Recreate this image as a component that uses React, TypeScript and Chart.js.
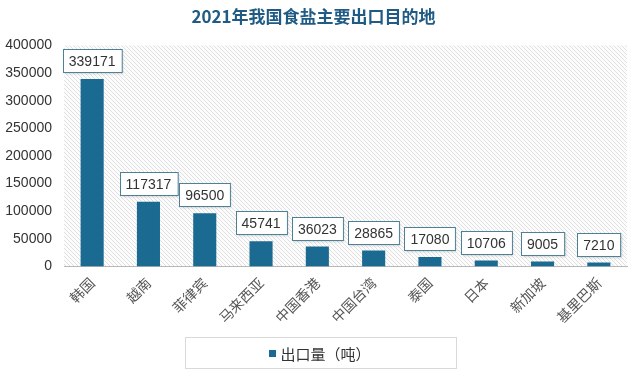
import React, { useEffect, useRef } from "react";
import { Chart, registerables } from "chart.js";

Chart.register(...registerables);

const chartTitle = "2021年我国食盐主要出口目的地";
const seriesName = "出口量（吨）";
const categories = ["韩国", "越南", "菲律宾", "马来西亚", "中国香港", "中国台湾", "泰国", "日本", "新加坡", "基里巴斯"];
const exportVolume = [339171, 117317, 96500, 45741, 36023, 28865, 17080, 10706, 9005, 7210];
const yMin = 0;
const yMax = 400000;
const yStep = 50000;

const BAR_COLOR = "#1b6a92";
const TITLE_COLOR = "#1f5b84";
const LABEL_BORDER = "#4d8198";

function makeHatch(): CanvasPattern | string {
  const n = 4;
  const c = document.createElement("canvas");
  c.width = n;
  c.height = n;
  const g = c.getContext("2d");
  if (!g) return "#f2f2f2";
  g.fillStyle = "#fcfcfc";
  g.fillRect(0, 0, n, n);
  g.strokeStyle = "#e0e0e0";
  g.lineWidth = 1;
  for (const k of [-n, 0, n]) {
    g.beginPath();
    g.moveTo(k, 0);
    g.lineTo(k + n, n);
    g.stroke();
  }
  const p = g.createPattern(c, "repeat");
  return p || "#f2f2f2";
}

const hatchPlugin = {
  id: "hatchBg",
  beforeDraw(chart: any) {
    const { ctx, chartArea } = chart;
    if (!chartArea) return;
    ctx.save();
    ctx.fillStyle = makeHatch();
    ctx.fillRect(chartArea.left, chartArea.top, chartArea.right - chartArea.left, chartArea.bottom - chartArea.top);
    ctx.restore();
  },
};

const dataLabelPlugin = {
  id: "boxLabels",
  afterDatasetsDraw(chart: any) {
    const { ctx } = chart;
    const meta = chart.getDatasetMeta(0);
    const data = chart.data.datasets[0].data as number[];
    ctx.save();
    ctx.font = "14px 'Liberation Sans', Arial, sans-serif";
    ctx.textAlign = "center";
    ctx.textBaseline = "middle";
    meta.data.forEach((bar: any, i: number) => {
      const txt = String(data[i]);
      const w = ctx.measureText(txt).width + 12;
      const h = 23;
      const x = Math.round(bar.x - w / 2) + 0.5;
      const y = Math.round(bar.y - 7 - h) + 0.5;
      ctx.shadowColor = "rgba(0,0,0,0.15)";
      ctx.shadowBlur = 2;
      ctx.shadowOffsetX = 1;
      ctx.shadowOffsetY = 1;
      ctx.fillStyle = "#ffffff";
      ctx.fillRect(x, y, w, h);
      ctx.shadowColor = "transparent";
      ctx.strokeStyle = LABEL_BORDER;
      ctx.lineWidth = 1;
      ctx.strokeRect(x, y, w, h);
      ctx.fillStyle = "#333333";
      ctx.fillText(txt, bar.x, y + h / 2 + 1);
    });
    ctx.restore();
  },
};

const legendPlugin = {
  id: "boxLegend",
  afterDraw(chart: any) {
    const { ctx } = chart;
    const bw = 271;
    const bh = 31;
    const bx = Math.round(chart.width / 2 - bw / 2) + 0.5;
    const by = 337.5;
    ctx.save();
    ctx.fillStyle = "#ffffff";
    ctx.fillRect(bx, by, bw, bh);
    ctx.strokeStyle = "#d9d9d9";
    ctx.lineWidth = 1;
    ctx.strokeRect(bx, by, bw, bh);
    ctx.font = "15px 'Noto Sans CJK SC', sans-serif";
    const tw = ctx.measureText(seriesName).width;
    const sq = 7;
    const total = sq + 4 + tw;
    const sx = chart.width / 2 - total / 2;
    const cy = by + bh / 2;
    ctx.fillStyle = BAR_COLOR;
    ctx.fillRect(Math.round(sx), Math.round(cy - sq / 2), sq, sq);
    ctx.fillStyle = "#333333";
    ctx.textAlign = "left";
    ctx.textBaseline = "middle";
    ctx.fillText(seriesName, sx + sq + 4, cy + 1);
    ctx.restore();
  },
};

export default function App() {
  const ref = useRef<HTMLCanvasElement | null>(null);
  useEffect(() => {
    document.body.style.margin = "0";
    const canvas = ref.current;
    if (!canvas) return;
    const chart = new Chart(canvas, {
      type: "bar",
      data: {
        labels: categories,
        datasets: [
          {
            label: seriesName,
            data: exportVolume,
            backgroundColor: BAR_COLOR,
            borderWidth: 0,
            barPercentage: 0.41,
            categoryPercentage: 1,
          },
        ],
      },
      options: {
        responsive: false,
        animation: false,
        devicePixelRatio: 1,
        layout: { padding: { left: 0, right: 13, top: 0, bottom: 38 } },
        plugins: {
          legend: { display: false },
          tooltip: { enabled: false },
          title: {
            display: true,
            text: chartTitle,
            color: TITLE_COLOR,
            font: { family: "'Noto Sans CJK SC', sans-serif", size: 17, weight: "bold" },
            padding: { top: 6, bottom: 19 },
          },
        },
        scales: {
          x: {
            grid: { display: false, drawTicks: false },
            border: { display: true, color: "#b8b8b8", width: 1 },
            ticks: {
              color: "#555555",
              font: { family: "'Noto Sans CJK SC', sans-serif", size: 14 },
              maxRotation: 45,
              minRotation: 45,
              padding: 8,
              autoSkip: false,
            },
          },
          y: {
            min: yMin,
            max: yMax,
            afterFit: (s: any) => { s.width = 64; },
            grid: { display: false, drawTicks: false },
            border: { display: false },
            ticks: {
              stepSize: yStep,
              color: "#333333",
              font: { family: "'Liberation Sans', Arial, sans-serif", size: 14 },
              padding: 12,
              callback: (v: any) => String(v),
            },
          },
        },
      },
      plugins: [hatchPlugin, dataLabelPlugin, legendPlugin],
    });
    return () => chart.destroy();
  }, []);
  return (
    <div style={{ width: 640, height: 372, background: "#ffffff" }}>
      <canvas ref={ref} width={640} height={372} style={{ display: "block" }} />
    </div>
  );
}
